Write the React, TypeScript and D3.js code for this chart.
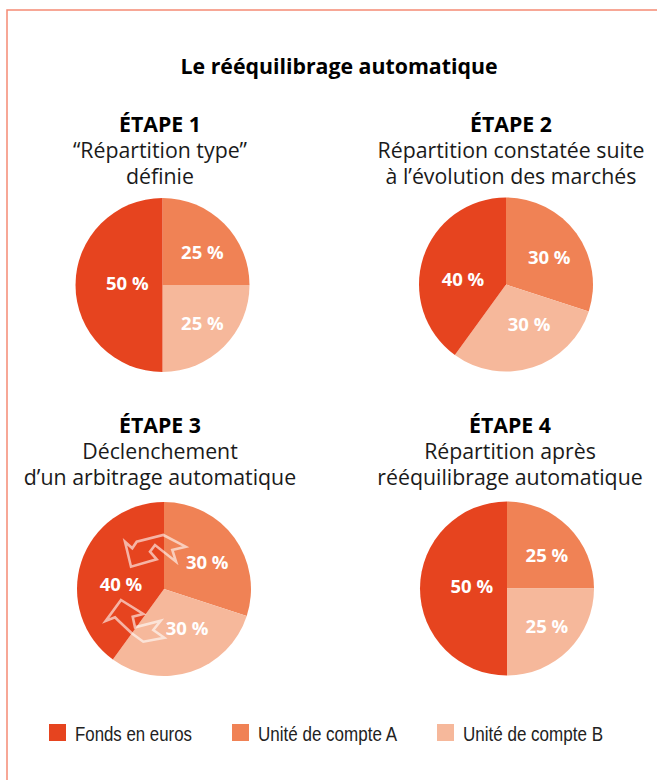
import React from "react";
import * as d3 from "d3";

const pageTitle = "Le rééquilibrage automatique";
const categories = ["Fonds en euros", "Unité de compte A", "Unité de compte B"];
const colors = ["#e6441f", "#f08255", "#f6b89b"];
const step1 = [50, 25, 25];
const step2 = [40, 30, 30];
const step3 = [40, 30, 30];
const step4 = [50, 25, 25];
const heads = ["ÉTAPE 1", "ÉTAPE 2", "ÉTAPE 3", "ÉTAPE 4"];
const subs = [
  ["“Répartition type”", "définie"],
  ["Répartition constatée suite", "à l’évolution des marchés"],
  ["Déclenchement", "d’un arbitrage automatique"],
  ["Répartition après", "rééquilibrage automatique"],
];

const font = "'Open Sans', sans-serif";
const R = 87;
const pieGen = d3.pie<number>().sort(null);
const arcGen = d3.arc<d3.PieArcDatum<number>>().innerRadius(0).outerRadius(R);
const labelArc = d3.arc<d3.PieArcDatum<number>>().innerRadius(R * 0.6).outerRadius(R * 0.6);

function Pie({ cx, cy, values, nudge }: { cx: number; cy: number; values: number[]; nudge: number[][] }) {
  // clockwise from 12 o'clock: A, B, euros
  const ordered = [values[1], values[2], values[0]];
  const idx = [1, 2, 0];
  const arcs = pieGen(ordered);
  return (
    <g transform={`translate(${cx},${cy})`}>
      {arcs.map((a, i) => (
        <path key={i} d={arcGen(a) || ""} fill={colors[idx[i]]} />
      ))}
      {arcs.map((a, i) => {
        const [x, y] = labelArc.centroid(a);
        return (
          <text key={i} x={x + nudge[i][0]} y={y + nudge[i][1]} textAnchor="middle" dominantBaseline="central" fontFamily={font} fontWeight={700} fontSize={18.5} fill="#fff">
            {ordered[i]} %
          </text>
        );
      })}
    </g>
  );
}

function Heading({ x, y, i }: { x: number; y: number; i: number }) {
  return (
    <text textAnchor="middle" fontFamily={font} fontSize={21.3} fill="#1a1a1a">
      <tspan x={x} y={y} fontWeight={700} fill="#000">{heads[i]}</tspan>
      <tspan x={x} y={y + 26}>{subs[i][0]}</tspan>
      <tspan x={x} y={y + 52}>{subs[i][1]}</tspan>
    </text>
  );
}

const arrowA = "M125,541.7 L132.3,548.3 L136.7,541.7 L163.3,535 L185.7,546.7 L172.3,550 L176,561.7 L155,545 L150,551.7 L156.7,559.3 L131,566.7 Z";
const arrowB = "M121,600 L143.3,614 L132.7,616.7 L135,627.3 L160.7,620.7 L153.3,630 L164.3,637.7 L143.3,641.7 L131.7,633.3 L117.7,620 L115,617.3 L105.7,621 Z";

const nudgeQuarter = [[3, 3], [3, 0.5], [17, -3]];
const nudgeThirty = [[1, 3], [7, -11], [6.6, 10.6]];

export default function App() {
  const legendX = [49, 232, 437];
  const legendW = [117, 139, 140];
  return (
    <svg width={657} height={780} style={{ position: "absolute", left: 0, top: 0, background: "#fff" }}>
      <path d="M657,10 L7,10 L7,780" fill="none" stroke="#f58b74" strokeWidth={1.5} />
      <text x={339} y={74} textAnchor="middle" fontFamily={font} fontWeight={700} fontSize={21.3} fill="#000">{pageTitle}</text>

      <Heading x={160} y={131.5} i={0} />
      <Heading x={511} y={131.5} i={1} />
      <Heading x={160} y={432.5} i={2} />
      <Heading x={510} y={432.5} i={3} />

      <Pie cx={162.5} cy={285} values={step1} nudge={nudgeQuarter} />
      <Pie cx={506} cy={284.5} values={step2} nudge={nudgeThirty} />
      <Pie cx={164} cy={589} values={step3} nudge={nudgeThirty} />
      <Pie cx={507} cy={588.5} values={step4} nudge={nudgeQuarter} />

      <path d={arrowA} fill="none" stroke="#fff" strokeOpacity={0.6} strokeWidth={2.6} />
      <path d={arrowB} fill="none" stroke="#fff" strokeOpacity={0.6} strokeWidth={2.6} />

      {categories.map((c, i) => (
        <g key={c}>
          <rect x={legendX[i]} y={724} width={17} height={17} fill={colors[i]} />
          <text x={legendX[i] + 26} y={741} fontFamily="'Liberation Sans', sans-serif" fontSize={21} fill="#222" textLength={legendW[i]} lengthAdjust="spacingAndGlyphs">{c}</text>
        </g>
      ))}
    </svg>
  );
}
